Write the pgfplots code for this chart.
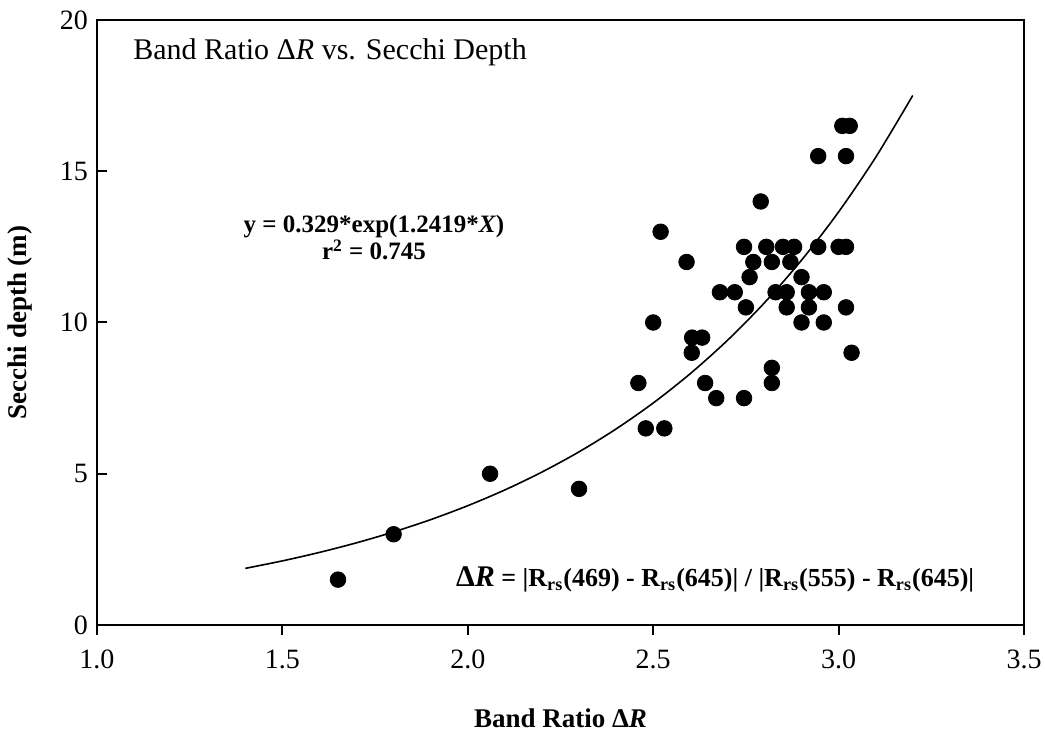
\documentclass[border=0pt]{standalone}
\usepackage{fontspec}
\setmainfont{Liberation Serif}
\usepackage{pgfplots}
\pgfplotsset{compat=1.18}
\begin{document}
\begin{tikzpicture}
\begin{axis}[
  scale only axis,
  width=463.5pt, height=302.5pt,
  xmin=1, xmax=3.5, ymin=0, ymax=20,
  xtick={1,1.5,2,2.5,3,3.5},
  ytick={0,5,10,15,20},
  xtick pos=bottom, ytick pos=left,
  tick align=inside,
  major tick length=5pt,
  xtick style={yshift=-5pt, line width=1pt, black},
  ytick style={line width=1pt, black},
  axis line style={line width=1.1pt},
  /pgf/number format/assume math mode=true,
  xticklabel style={/pgf/number format/fixed, /pgf/number format/fixed zerofill, /pgf/number format/precision=1, font=\fontsize{14}{16}\selectfont, yshift=-9pt},
  yticklabel style={font=\fontsize{14}{16}\selectfont, xshift=-1pt},
  xlabel={\textbf{Band Ratio \char"0394\textit{R}}},
  ylabel={\textbf{Secchi depth (m)}},
  xlabel style={at={(axis description cs:0.5,0)}, anchor=center, yshift=-46.5pt, font=\fontsize{13.5}{15}\selectfont},
  ylabel style={at={(axis description cs:0,0.5)}, anchor=center, rotate=0, yshift=38.5pt, font=\fontsize{13.5}{15}\selectfont},
  clip=false,
]
\addplot[only marks, mark=*, mark size=3.9pt, black] coordinates {
(1.65,1.5) (1.80,3.0) (2.06,5.0) (2.30,4.5)
(2.46,8.0) (2.48,6.5) (2.50,10.0) (2.53,6.5) (2.52,13.0)
(2.59,12.0) (2.604,9.0) (2.605,9.5) (2.632,9.5) (2.64,8.0)
(2.67,7.5) (2.68,11.0) (2.72,11.0) (2.745,12.5) (2.75,10.5)
(2.745,7.5) (2.76,11.5) (2.77,12.0) (2.79,14.0) (2.805,12.5)
(2.82,12.0) (2.82,8.5) (2.82,8.0) (2.83,11.0) (2.85,12.5)
(2.86,11.0) (2.86,10.5) (2.87,12.0) (2.88,12.5) (2.90,11.5)
(2.90,10.0) (2.92,11.0) (2.92,10.5) (2.945,12.5) (2.945,15.5)
(2.96,11.0) (2.96,10.0) (3.00,12.5) (3.02,12.5) (3.02,15.5)
(3.02,10.5) (3.01,16.5) (3.03,16.5) (3.035,9.0)
};
\addplot[smooth, black, line width=0.8pt] coordinates {
(1.4,1.872) (1.5,2.119) (1.6,2.400) (1.7,2.717) (1.8,3.077)
(1.9,3.483) (2.0,3.944) (2.1,4.465) (2.2,5.056) (2.3,5.724)
(2.4,6.481) (2.5,7.338) (2.6,8.309) (2.7,9.407) (2.8,10.651)
(2.9,12.060) (3.0,13.655) (3.1,15.460) (3.2,17.504)
};
\node[anchor=base west, font=\fontsize{15}{17}\selectfont, inner sep=0pt] at (axis cs:1.097,18.68) {Band Ratio \char"0394\textit{R} vs. Secchi Depth};
\node[align=center, font=\bfseries\fontsize{12.5}{13.5}\selectfont, inner sep=0pt] at (axis cs:1.747,12.8) {y = 0.329*exp(1.2419*\textit{X})\\r$^{\mathbf{2}}$ = 0.745};
\node[font=\bfseries\fontsize{13}{14}\selectfont, inner sep=0pt] at (axis cs:2.667,1.5) {{\fontsize{15}{16}\selectfont\char"0394\textit{R}} = |R\textsubscript{rs}(469) - R\textsubscript{rs}(645)| / |R\textsubscript{rs}(555) - R\textsubscript{rs}(645)|};
\end{axis}
\pgfresetboundingbox
\path (-48.5pt,-53.5pt) rectangle (474pt,312.5pt);
\end{tikzpicture}
\end{document}
